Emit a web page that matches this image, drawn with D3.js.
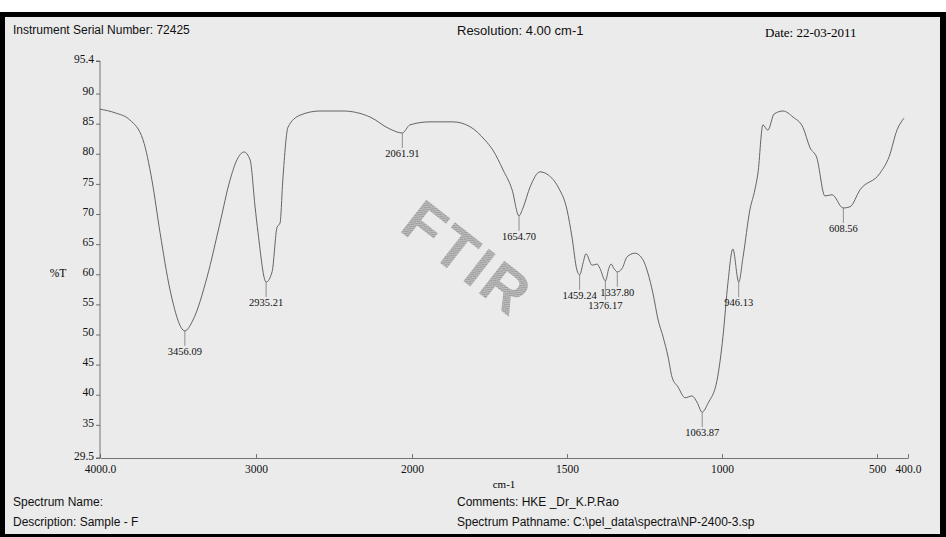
<!DOCTYPE html>
<html>
<head>
<meta charset="utf-8">
<script src="https://cdn.jsdelivr.net/npm/d3@7"></script>
<style>
  body { margin: 0; background: #fff; }
  .axis text { font-family: "Liberation Serif", "Times New Roman", serif; font-size: 11.5px; fill: #111; }
  .axis path, .axis line { stroke: #555; stroke-width: 0.8; }
  .head { font-family: "Liberation Sans", Arial, sans-serif; font-size: 12px; fill: #111; }
  .peak { font-family: "Liberation Serif", "Times New Roman", serif; font-size: 10.5px; fill: #111; }
</style>
</head>
<body>
<div id="chart"></div>
<script>
// spectrum, wavenumber (cm-1) vs %T
const wavenumber = [4000, 3904, 3808, 3724, 3667, 3615, 3551, 3456, 3404, 3314, 3231, 3167, 3122, 3077,
  3038, 3006, 2987, 2935, 2897, 2865, 2846, 2827, 2795, 2718, 2590, 2442, 2269, 2141, 2062, 2013,
  1942, 1868, 1813, 1765, 1739, 1706, 1677, 1655, 1642, 1619, 1587, 1561, 1529, 1500, 1484, 1468,
  1459, 1448, 1439, 1419, 1403, 1394, 1376, 1365, 1358, 1348, 1338, 1323, 1306, 1281, 1255, 1239,
  1223, 1206, 1190, 1174, 1161, 1142, 1119, 1097, 1081, 1064, 1045, 1016, 997, 981, 965, 946, 932,
  910, 894, 884, 868, 852, 832, 803, 771, 739, 716, 694, 668, 645, 609, 587, 555, 490, 461, 435, 413];
const transmittance = [87.4, 86.8, 85.6, 82.3, 75.6, 66.9, 57.4, 50.6, 52.4, 59.5, 68.5, 75.6, 79.0, 80.3,
  79.0, 71.2, 66.9, 58.7, 60.4, 67.8, 68.5, 76.1, 84.4, 86.4, 87.1, 87.1, 86.1, 84.1, 83.45, 84.8,
  85.3, 85.3, 84.5, 82.3, 80.6, 77.3, 74.0, 69.7, 71.0, 74.5, 77.0, 76.5, 74.5, 70.7, 66.2, 60.7,
  59.9, 61.9, 63.4, 61.5, 61.7, 61.0, 58.9, 61.0, 61.7, 60.9, 60.4, 60.9, 62.9, 63.5, 62.4, 60.2,
  56.9, 52.4, 49.6, 46.3, 42.9, 41.3, 39.5, 39.8, 38.8, 37.1, 38.6, 42.4, 49.6, 58.5, 64.2, 58.7, 62.9,
  70.7, 74.0, 76.8, 84.8, 83.9, 86.6, 87.1, 86.1, 84.4, 81.0, 79.3, 73.0, 73.2, 71.0, 71.2, 74.0, 76.8,
  79.5, 84.0, 85.9];

const peakWavenumber = [3456.09, 2935.21, 2061.91, 1654.70, 1459.24, 1376.17, 1337.80, 1063.87, 946.13, 608.56];
const peakTransmittance = [50.6, 58.7, 83.45, 69.7, 59.9, 58.9, 60.4, 37.1, 58.7, 71.0];
const peakLabels = ["3456.09", "2935.21", "2061.91", "1654.70", "1459.24", "1376.17", "1337.80", "1063.87", "946.13", "608.56"];

const xTicks = [4000, 3000, 2000, 1500, 1000, 500, 400];
const xTickLabels = ["4000.0", "3000", "2000", "1500", "1000", "500", "400.0"];
const yTicks = [29.5, 35, 40, 45, 50, 55, 60, 65, 70, 75, 80, 85, 90, 95.4];

const W = 946, H = 537;

const svg = d3.select('#chart').append('svg')
  .attr('width', W).attr('height', H);

// scanned page frame
svg.append('rect').attr('x', 0).attr('y', 12).attr('width', W).attr('height', H - 12).attr('fill', '#000');
svg.append('rect').attr('x', 5).attr('y', 17).attr('width', W - 11).attr('height', H - 20).attr('fill', '#ebebeb');

// instrument x scale changes at 2000 cm-1
const x = d3.scaleLinear()
  .domain([4000, 2000, 400])
  .range([100, 412, 908]);

const y = d3.scaleLinear()
  .domain([29.5, 95.4])
  .range([458, 61]);

// watermark
const defs = svg.append('defs');
const pat = defs.append('pattern')
  .attr('id', 'hatch').attr('patternUnits', 'userSpaceOnUse')
  .attr('width', 3).attr('height', 3);
pat.append('rect').attr('width', 3).attr('height', 3).attr('fill', '#c8c8c8');
pat.append('path').attr('d', 'M0,3 L3,0').attr('stroke', '#8f8f8f').attr('stroke-width', 1.1);

svg.append('text')
  .attr('transform', 'translate(468,258) rotate(38)')
  .attr('text-anchor', 'middle')
  .attr('dy', '0.35em')
  .attr('font-family', '"Liberation Sans", sans-serif')
  .attr('font-weight', 'bold')
  .attr('font-size', 60)
  .attr('letter-spacing', 3)
  .attr('fill', 'url(#hatch)')
  .text('FTIR');

// axes
svg.append('g')
  .attr('class', 'axis')
  .attr('transform', 'translate(100,0)')
  .call(d3.axisLeft(y).tickValues(yTicks).tickSize(4).tickPadding(2).tickFormat(d => d))
  .call(g => g.selectAll('.tick text').attr('dy', '0.1em'))
  .call(g => g.select('.domain').attr('d', 'M-4,61H0V458H-4'));

svg.append('g')
  .attr('class', 'axis')
  .attr('transform', 'translate(0,458)')
  .call(d3.axisBottom(x).tickValues(xTicks).tickSizeInner(-4).tickSizeOuter(0).tickPadding(7)
    .tickFormat((d, i) => xTickLabels[i]));

svg.append('text')
  .attr('x', 58).attr('y', 277)
  .attr('text-anchor', 'middle')
  .style('font-family', '"Liberation Serif", serif').style('font-size', '11.5px')
  .text('%T');

svg.append('text')
  .attr('x', 504).attr('y', 488)
  .attr('text-anchor', 'middle')
  .style('font-family', '"Liberation Serif", serif').style('font-size', '11px')
  .text('cm-1');

// spectrum
const spectrum = wavenumber.map((w, i) => [w, transmittance[i]]);
const line = d3.line()
  .x(d => x(d[0]))
  .y(d => y(d[1]))
  .curve(d3.curveMonotoneX);

svg.append('path')
  .datum(spectrum)
  .attr('fill', 'none')
  .attr('stroke', '#555')
  .attr('stroke-width', 0.9)
  .attr('d', line);

// peak markers, labels pushed down when they would collide
const placed = [];
peakWavenumber.forEach((w, i) => {
  const px = x(w), py = y(peakTransmittance[i]);
  const halfW = peakLabels[i].length * 2.5;
  let base = py + 24;
  placed.forEach(b => {
    if (px - halfW < b.x1 && px + halfW > b.x0 && base > b.base - 10 && base < b.base + 10) base = b.base + 10;
  });
  placed.push({ x0: px - halfW, x1: px + halfW, base: base });
  svg.append('line')
    .attr('x1', px).attr('x2', px)
    .attr('y1', py).attr('y2', base - 9)
    .attr('stroke', '#777').attr('stroke-width', 0.8);
  svg.append('text')
    .attr('class', 'peak')
    .attr('x', px).attr('y', base)
    .attr('text-anchor', 'middle')
    .text(peakLabels[i]);
});

// header and footer text
svg.append('text').attr('class', 'head').attr('x', 13).attr('y', 34).text('Instrument Serial Number: 72425');
svg.append('text').attr('class', 'head').attr('x', 457).attr('y', 35).style('font-size', '13px').text('Resolution: 4.00 cm-1');
svg.append('text').attr('x', 765).attr('y', 37)
  .style('font-family', '"Liberation Serif", serif').style('font-size', '13px').text('Date: 22-03-2011');

svg.append('text').attr('class', 'head').attr('x', 13).attr('y', 506).text('Spectrum Name:');
svg.append('text').attr('class', 'head').attr('x', 13).attr('y', 526).text('Description: Sample - F');
svg.append('text').attr('class', 'head').attr('x', 457).attr('y', 506).text('Comments: HKE _Dr_K.P.Rao');
svg.append('text').attr('class', 'head').attr('x', 457).attr('y', 526).text('Spectrum Pathname: C:\\pel_data\\spectra\\NP-2400-3.sp');
</script>
</body>
</html>
